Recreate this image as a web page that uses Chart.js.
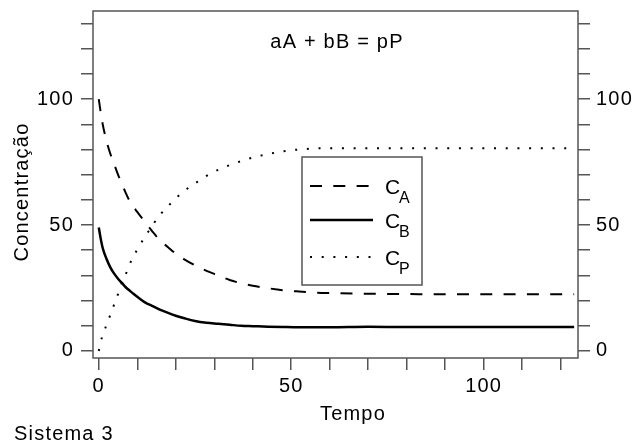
<!DOCTYPE html>
<html>
<head>
<meta charset="utf-8">
<script src="https://cdn.jsdelivr.net/npm/chart.js@4.4.1/dist/chart.umd.min.js"></script>
<style>
  body { margin: 0; background: #fff; }
  canvas { display: block; }
</style>
</head>
<body>
<canvas id="chart" width="636" height="445"></canvas>
<script>
// tempo (x) e concentrações
var tempo = [0, 0.5, 1, 2, 3, 4, 5, 6, 7, 8, 9, 10, 12, 14, 16, 18, 20, 22, 25, 28, 31, 34, 37, 40, 44, 48, 52, 56, 60, 70, 80, 90, 100, 110, 123.5];
var cA = [100, 94.8, 90.2, 83.5, 78.3, 74.2, 70, 66.5, 62.8, 59.6, 57.2, 55.2, 51.2, 47.3, 43.8, 41.2, 38.6, 36.6, 34.0, 31.8, 30.0, 28.2, 26.9, 25.9, 24.9, 24.1, 23.6, 23.2, 23.0, 22.7, 22.6, 22.5, 22.5, 22.5, 22.5];
var cB = [49, 44.6, 41, 36.6, 33.2, 30.7, 28.7, 27, 25.3, 24, 22.7, 21.5, 19.3, 17.8, 16.3, 15.1, 14.0, 13.1, 11.9, 11.2, 10.8, 10.4, 10.0, 9.85, 9.65, 9.5, 9.4, 9.4, 9.4, 9.6, 9.5, 9.5, 9.5, 9.5, 9.5];
var cP = [0, 3.6, 6.2, 10.3, 14.3, 18.5, 22.6, 27, 30.4, 34.4, 37.4, 40.3, 45.3, 50, 54.2, 57.5, 60.6, 63.3, 66.5, 69.5, 71.9, 73.8, 75.4, 76.8, 78.2, 79.3, 80, 80.4, 80.5, 80.5, 80.5, 80.5, 80.5, 80.5, 80.5];

var seriesNames = ['A', 'B', 'P'];
var xLabelEvery = 50;
var yLabelEvery = 50;

var FONT = "'Liberation Sans', Arial, sans-serif";
var AXIS = '#555';

function pts(vals) {
    return tempo.map(function (t, i) { return { x: t, y: vals[i] }; });
}

function everyN(n) {
    return function (v) { return v % n === 0 ? v : ''; };
}

// espaçamento das letras e textos livres (título, eixos, legenda)
var extras = {
    id: 'extras',
    beforeUpdate: function (chart) { chart.ctx.letterSpacing = '1.2px'; },
    beforeDraw: function (chart) { chart.ctx.letterSpacing = '1.2px'; },
    afterDraw: function (chart) {
        var ctx = chart.ctx;
        var a = chart.chartArea;
        ctx.save();
        ctx.letterSpacing = '1.2px';

        // moldura
        ctx.strokeStyle = AXIS;
        ctx.lineWidth = 1.5;
        ctx.strokeRect(a.left, a.top, a.right - a.left, a.bottom - a.top);

        ctx.fillStyle = '#000';
        ctx.font = '20px ' + FONT;
        ctx.textBaseline = 'alphabetic';
        ctx.textAlign = 'center';
        ctx.fillText('aA + bB = pP', 337, 48);
        ctx.fillText('Tempo', 353, 420);

        ctx.textAlign = 'left';
        ctx.fillText('Sistema 3', 14, 440);

        ctx.save();
        ctx.translate(28, 192);
        ctx.rotate(-Math.PI / 2);
        ctx.textAlign = 'center';
        ctx.fillText('Concentração', 0, 0);
        ctx.restore();

        // legenda
        ctx.fillStyle = '#fff';
        ctx.fillRect(302, 157, 120, 128);
        ctx.strokeStyle = AXIS;
        ctx.lineWidth = 1.5;
        ctx.strokeRect(302, 157, 120, 128);

        var rows = [186, 220, 257];
        chart.data.datasets.forEach(function (ds, i) {
            var y = rows[i];
            ctx.strokeStyle = '#000';
            ctx.lineWidth = ds.borderWidth;
            ctx.setLineDash(ds.borderDash || []);
            ctx.beginPath();
            ctx.moveTo(310, y);
            ctx.lineTo(373, y);
            ctx.stroke();
            ctx.setLineDash([]);

            ctx.fillStyle = '#000';
            ctx.textAlign = 'left';
            ctx.font = '21px ' + FONT;
            ctx.fillText('C', 385, y + 8);
            ctx.font = '16px ' + FONT;
            ctx.fillText(seriesNames[i], 399, y + 17);
        });
        ctx.restore();
    }
};

function yAxis(pos, pad, w) {
    return {
        type: 'linear',
        position: pos,
        min: -2.8,
        max: 135,
        border: { display: false },
        grid: { drawOnChartArea: false, tickLength: 12, color: AXIS, lineWidth: 1.5 },
        ticks: {
            stepSize: 10,
            includeBounds: false,
            autoSkip: false,
            padding: pad,
            color: '#000',
            font: { family: FONT, size: 20 },
            callback: everyN(yLabelEvery)
        },
        afterFit: function (s) {
            s.width = w;
            s.paddingTop = 0;
            s.paddingBottom = 0;
        }
    };
}

new Chart(document.getElementById('chart').getContext('2d'), {
    type: 'line',
    data: {
        datasets: [{
            label: 'CA',
            data: pts(cA),
            borderColor: '#000',
            borderWidth: 2,
            borderDash: [12, 11.3]
        }, {
            label: 'CB',
            data: pts(cB),
            borderColor: '#000',
            borderWidth: 2.5
        }, {
            label: 'CP',
            data: pts(cP),
            borderColor: '#000',
            borderWidth: 2,
            borderDash: [2, 9.7]
        }]
    },
    options: {
        responsive: false,
        animation: false,
        events: [],
        layout: { padding: { top: 11, left: 0, right: 0, bottom: 0 } },
        elements: {
            point: { radius: 0 },
            line: { cubicInterpolationMode: 'monotone', fill: false }
        },
        plugins: {
            legend: { display: false },
            tooltip: { enabled: false }
        },
        scales: {
            x: {
                type: 'linear',
                position: 'bottom',
                min: -1.5,
                max: 124.5,
                border: { display: false },
                grid: { drawOnChartArea: false, tickLength: 12, color: AXIS, lineWidth: 1.5 },
                ticks: {
                    stepSize: 10,
                    includeBounds: false,
                    autoSkip: false,
                    maxRotation: 0,
                    padding: 4,
                    color: '#000',
                    font: { family: FONT, size: 20 },
                    callback: everyN(xLabelEvery)
                },
                afterFit: function (s) {
                    s.height = 87;
                    s.paddingLeft = 0;
                    s.paddingRight = 0;
                }
            },
            y: yAxis('left', 7, 93),
            y2: yAxis('right', 6, 58)
        }
    },
    plugins: [extras]
});
</script>
</body>
</html>
